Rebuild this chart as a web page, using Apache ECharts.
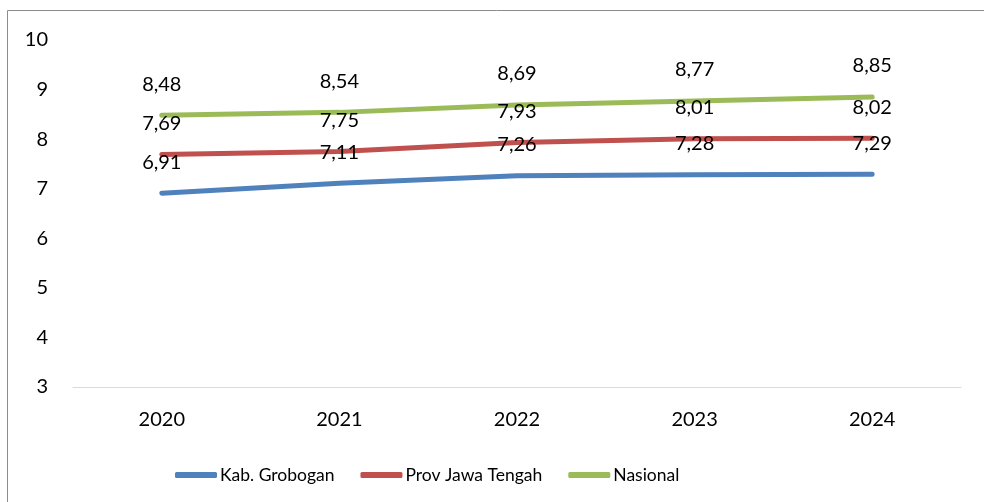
<!DOCTYPE html>
<html><head><meta charset="utf-8">
<script src="https://cdn.jsdelivr.net/npm/echarts@6/dist/echarts.min.js"></script>
<style>html,body{margin:0;padding:0;background:#fff}#c{width:984px;height:502px}</style>
</head><body><div id="c"></div>
<script>
const categories = ['2020','2021','2022','2023','2024'];
const grobogan = [6.91, 7.11, 7.26, 7.28, 7.29];
const jateng = [7.69, 7.75, 7.93, 8.01, 8.02];
const nasional = [8.48, 8.54, 8.69, 8.77, 8.85];
const seriesNames = ['Kab. Grobogan', 'Prov Jawa Tengah', 'Nasional'];
const colors = ['#4F81BD', '#C0504D', '#9BBB59'];
const FONT = 'Lato, "Open Sans", sans-serif';

const chart = echarts.init(document.getElementById('c'));
function mk(name, data, color) {
  return {
    name, type: 'line', data, showSymbol: true, symbol: 'circle', symbolSize: 0.01,
    lineStyle: { width: 5, color, cap: 'round' }, itemStyle: { color },
    label: { show: true, position: 'top', distance: 21, fontSize: 20, color: '#000', fontFamily: FONT,
      formatter: p => p.value.toFixed(2).replace('.', ',') },
    labelLayout: { hideOverlap: false }, z: 2
  };
}
chart.setOption({
  animation: false,
  graphic: [{ type: 'rect', shape: { x: 7.5, y: 10.5, width: 1000, height: 600 },
    style: { fill: 'none', stroke: '#8c8c8c', lineWidth: 1 }, silent: true }],
  grid: { left: 73, right: 23, top: 40, bottom: 115, containLabel: false },
  xAxis: { type: 'category', data: categories, boundaryGap: true,
    axisLine: { lineStyle: { color: '#d9d9d9', width: 1 } }, axisTick: { show: false },
    axisLabel: { fontSize: 20, color: '#000', fontFamily: FONT, margin: 23 } },
  yAxis: { type: 'value', min: 3, max: 10, interval: 1,
    splitLine: { show: false }, axisLine: { show: false }, axisTick: { show: false },
    axisLabel: { fontSize: 20, color: '#000', fontFamily: FONT, margin: 25 } },
  legend: { top: 461, left: 170, icon: 'roundRect', itemWidth: 42, itemHeight: 6, itemGap: 26,
    textStyle: { fontSize: 17.5, color: '#000', fontFamily: FONT, padding: [0,0,0,-2] },
    data: seriesNames.map((n, i) => ({ name: n, itemStyle: { color: colors[i] } })) },
  series: [mk(seriesNames[0], grobogan, colors[0]), mk(seriesNames[1], jateng, colors[1]), mk(seriesNames[2], nasional, colors[2])]
});
</script></body></html>
